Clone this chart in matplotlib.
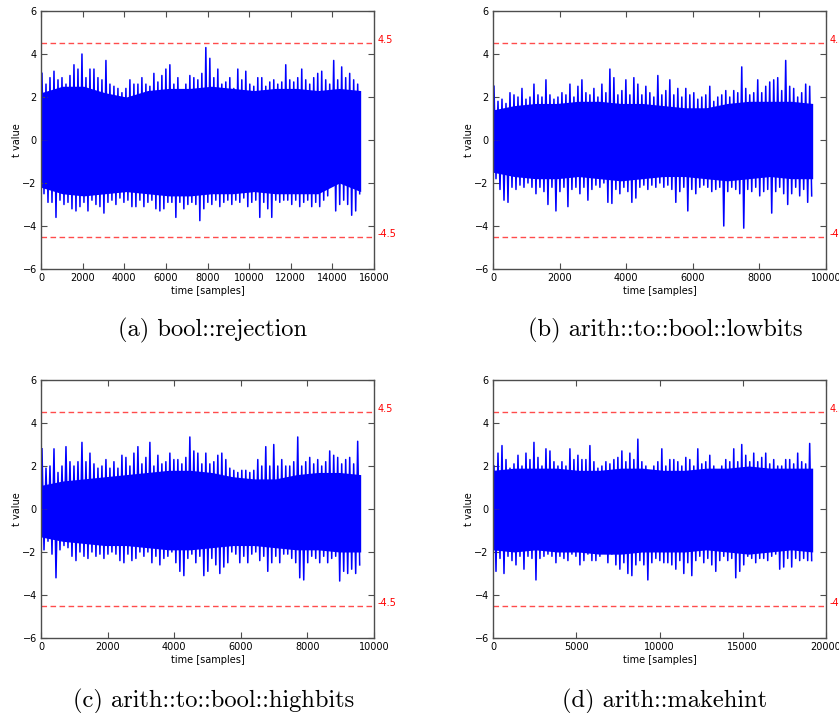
import numpy as np
import matplotlib
matplotlib.use("Agg")
import matplotlib.pyplot as plt
import matplotlib.transforms as mtransforms

n_a = 15360
hi_a = [3.1, 2.6, 2.9, 3.2, 2.8, 2.9, 2.6, 3.0, 3.5, 3.3,
        4.0, 2.9, 3.3, 3.3, 2.9, 2.8, 3.7, 2.6, 2.5, 2.4,
        2.2, 2.4, 2.8, 2.6, 2.6, 2.9, 2.6, 2.5, 3.1, 2.7,
        3.0, 3.3, 3.5, 2.6, 2.9, 2.3, 2.6, 3.0, 2.9, 2.8,
        3.1, 4.3, 3.8, 2.9, 3.3, 2.6, 2.7, 2.9, 2.4, 3.3,
        2.8, 3.2, 2.6, 2.5, 2.9, 2.9, 2.5, 2.7, 2.8, 2.6,
        2.7, 3.5, 2.8, 2.7, 2.9, 3.3, 2.8, 2.6, 2.9, 3.1,
        3.2, 2.8, 2.6, 3.7, 2.8, 3.4, 2.9, 3.1, 2.8, 2.6]
lo_a = [-2.5, -2.9, -2.9, -3.6, -2.8, -3.0, -2.9, -3.2, -3.3, -3.1,
        -2.9, -3.3, -2.8, -3.0, -3.1, -3.4, -2.9, -2.8, -3.0, -2.7,
        -2.9, -2.8, -3.1, -3.1, -2.8, -3.1, -2.9, -2.8, -3.2, -3.3,
        -3.2, -2.9, -2.9, -3.6, -2.9, -3.2, -3.0, -2.9, -3.0, -3.75,
        -3.2, -2.9, -3.0, -2.8, -3.1, -2.9, -2.8, -3.0, -2.8, -2.9,
        -2.7, -3.1, -2.9, -2.8, -3.6, -2.9, -3.2, -3.6, -2.8, -2.9,
        -2.8, -2.8, -3.0, -2.8, -3.1, -2.9, -2.8, -3.1, -2.9, -3.1,
        -2.8, -2.6, -1.9, -3.3, -3.0, -2.8, -3.0, -3.5, -3.3, -2.5]
core_hi_a = [2.2, 2.5, 2.5, 2.2, 2.0, 2.3, 2.4, 2.4, 2.5, 2.4, 2.3, 2.4, 2.4, 2.3, 2.4, 2.3]
core_lo_a = [-2.2, -2.5, -2.6, -2.5, -2.4, -2.5, -2.6, -2.6, -2.5, -2.5, -2.4, -2.5, -2.5, -2.5, -2.0, -2.4]

n_b = 9600
hi_b = [2.5, 1.8, 1.9, 1.7, 2.2, 2.1, 2.0, 2.4, 1.9, 2.0,
        2.6, 2.1, 2.0, 2.8, 2.1, 1.9, 2.0, 2.2, 2.1, 2.6,
        2.0, 2.5, 2.8, 2.2, 2.1, 2.4, 2.0, 2.6, 2.2, 3.3,
        2.9, 2.1, 2.3, 2.8, 2.1, 2.9, 2.6, 2.1, 2.5, 2.2,
        2.0, 3.0, 2.1, 2.3, 2.8, 2.1, 2.4, 2.0, 2.4, 2.1,
        2.2, 1.9, 2.0, 2.1, 2.5, 1.8, 2.0, 2.1, 2.3, 2.0,
        2.3, 2.2, 3.4, 2.4, 2.1, 2.2, 2.8, 2.2, 2.5, 2.7,
        2.8, 2.9, 2.3, 3.7, 2.5, 2.4, 2.0, 2.2, 2.6, 2.5]
lo_b = [-1.8, -2.3, -2.8, -2.9, -2.2, -2.3, -2.1, -2.2, -2.0, -2.2,
        -2.5, -2.2, -2.4, -3.0, -2.2, -3.3, -2.4, -2.2, -3.1, -2.3,
        -2.2, -2.5, -2.2, -2.8, -2.3, -2.1, -2.2, -2.0, -2.9, -2.95,
        -2.3, -2.5, -2.2, -2.4, -2.9, -2.7, -2.2, -2.1, -2.3, -2.1,
        -2.2, -2.0, -2.2, -2.1, -2.3, -2.9, -2.4, -2.2, -3.3, -2.3,
        -2.5, -2.2, -2.1, -2.2, -2.4, -2.3, -2.2, -4.0, -2.4, -2.2,
        -2.3, -2.5, -4.1, -2.3, -2.4, -2.2, -2.6, -2.4, -2.3, -3.4,
        -2.4, -2.2, -2.5, -3.0, -2.5, -2.2, -2.6, -2.3, -2.9, -2.6]
core_hi_b = [1.4, 1.6, 1.7, 1.7, 1.8, 1.8, 1.7, 1.7, 1.6, 1.5, 1.5, 1.7, 1.8, 1.8, 1.8, 1.7]
core_lo_b = [-1.5, -1.7, -1.8, -1.8, -1.7, -1.8, -1.9, -1.8, -1.7, -1.7, -1.8, -1.9, -1.8, -1.7, -1.8, -1.8]

n_c = 9600
hi_c = [2.8, 1.9, 2.0, 2.8, 1.7, 2.0, 2.9, 2.2, 2.0, 2.2,
        3.1, 2.2, 2.6, 2.1, 1.9, 2.0, 2.3, 1.9, 2.2, 1.9,
        2.5, 2.4, 2.0, 2.6, 2.9, 2.1, 2.4, 3.1, 2.0, 2.5,
        2.1, 2.2, 2.6, 2.3, 2.3, 2.1, 2.4, 3.35, 2.7, 2.6,
        2.1, 2.6, 2.1, 2.2, 2.5, 2.6, 2.3, 1.9, 1.8, 1.7,
        1.8, 1.8, 1.7, 1.8, 2.3, 2.0, 2.9, 2.0, 3.0, 2.0,
        2.3, 2.0, 2.0, 2.2, 3.35, 2.0, 2.2, 2.4, 2.1, 2.3,
        2.0, 2.2, 2.7, 2.5, 2.4, 2.1, 2.3, 2.4, 2.1, 3.15]
lo_c = [-1.9, -1.5, -2.1, -3.2, -1.9, -1.7, -1.8, -2.2, -2.4, -2.0,
        -2.2, -2.3, -2.0, -2.2, -2.1, -2.3, -2.1, -2.0, -2.1, -2.4,
        -2.5, -2.1, -2.4, -2.3, -2.0, -2.2, -2.0, -2.5, -2.2, -2.6,
        -2.3, -2.2, -2.0, -2.5, -2.9, -3.1, -2.3, -2.1, -2.5, -2.2,
        -3.1, -2.9, -2.3, -2.6, -3.0, -2.7, -2.5, -2.0, -2.1, -2.5,
        -2.2, -2.5, -2.1, -2.0, -2.4, -2.2, -2.9, -2.5, -2.2, -2.5,
        -2.1, -2.1, -2.3, -2.5, -3.2, -3.3, -2.5, -2.2, -2.3, -2.5,
        -2.2, -2.5, -2.3, -2.2, -3.35, -2.9, -3.0, -2.8, -3.0, -2.6]
core_hi_c = [1.1, 1.3, 1.4, 1.5, 1.6, 1.7, 1.8, 1.8, 1.7, 1.5, 1.4, 1.4, 1.6, 1.7, 1.7, 1.6]
core_lo_c = [-1.3, -1.5, -1.6, -1.7, -1.7, -1.8, -1.9, -1.9, -1.8, -1.7, -1.7, -1.8, -1.9, -1.9, -2.0, -2.0]

n_d = 19200
hi_d = [2.0, 2.6, 2.95, 2.3, 1.9, 2.1, 2.5, 2.0, 2.6, 2.3,
        3.1, 2.4, 2.0, 2.8, 2.7, 2.2, 2.0, 2.2, 2.0, 2.8,
        2.3, 2.5, 2.3, 2.3, 2.95, 2.2, 1.9, 2.0, 2.2, 2.1,
        2.3, 2.4, 2.7, 2.2, 2.6, 2.3, 3.25, 2.2, 2.0, 1.6,
        2.0, 2.2, 2.8, 2.0, 2.3, 2.3, 2.2, 2.0, 2.4, 2.3,
        2.0, 2.8, 2.1, 2.2, 2.5, 2.0, 1.6, 2.0, 2.3, 2.2,
        2.8, 2.2, 3.0, 2.5, 2.2, 2.6, 2.2, 2.4, 2.6, 2.1,
        2.3, 2.0, 2.0, 2.3, 2.3, 2.1, 2.6, 2.2, 2.1, 3.05]
lo_d = [-2.9, -2.3, -3.0, -2.2, -2.4, -2.6, -2.2, -2.8, -2.2, -2.3,
        -3.3, -2.3, -2.2, -2.1, -2.2, -2.5, -2.2, -2.3, -2.4, -2.1,
        -2.2, -2.6, -2.4, -2.1, -2.4, -2.4, -2.2, -2.0, -2.5, -2.1,
        -2.6, -2.8, -2.5, -3.0, -3.1, -2.6, -2.4, -2.6, -3.3, -2.5,
        -2.3, -2.4, -2.5, -2.5, -2.6, -2.8, -2.4, -3.0, -2.5, -3.1,
        -2.4, -2.2, -2.5, -2.3, -2.6, -2.9, -2.4, -2.2, -2.4, -2.3,
        -3.2, -2.9, -2.6, -2.2, -2.3, -2.5, -2.3, -2.3, -2.4, -2.2,
        -2.1, -2.8, -2.7, -2.3, -2.7, -2.3, -2.4, -2.3, -2.4, -2.4]
core_hi_d = [1.8, 1.9, 1.9, 1.9, 1.8, 1.8, 1.9, 1.9, 1.8, 1.8, 1.9, 1.9, 2.0, 1.9, 1.9, 1.9]
core_lo_d = [-1.9, -2.0, -1.9, -2.0, -2.0, -2.1, -2.1, -2.0, -2.0, -2.0, -1.9, -2.0, -2.1, -2.0, -1.9, -2.0]

captions = ["(a) bool::rejection", "(b) arith::to::bool::lowbits",
            "(c) arith::to::bool::highbits", "(d) arith::makehint"]
xmax = [16000, 10000, 10000, 20000]
xstep = [2000, 2000, 2000, 5000]
threshold = 4.5

panels = [(n_a, hi_a, lo_a, core_hi_a, core_lo_a),
          (n_b, hi_b, lo_b, core_hi_b, core_lo_b),
          (n_c, hi_c, lo_c, core_hi_c, core_lo_c),
          (n_d, hi_d, lo_d, core_hi_d, core_lo_d)]

W, H = 839, 713
fig = plt.figure(figsize=(W / 100, H / 100), dpi=100)

# axes boxes in pixels: left, top
boxes = [(41, 11), (493, 11), (41, 380), (493, 380)]
cap_pos = [(213, 330), (665, 330), (214, 701), (665, 701)]
aw, ah = 333, 258

for k, (n, hi, lo, chi, clo) in enumerate(panels):
    l, t = boxes[k]
    ax = fig.add_axes([l / W, 1 - (t + ah) / H, aw / W, ah / H])
    hi = np.array(hi)
    lo = np.array(lo)
    w = n / len(hi)
    idx = np.arange(len(hi))
    xs = np.empty(2 * len(hi))
    ys = np.empty(2 * len(hi))
    xs[0::2] = (idx + 0.25) * w
    xs[1::2] = (idx + 0.75) * w
    ys[0::2] = hi
    ys[1::2] = lo
    xc = np.linspace(0, n, len(chi))
    ax.fill_between(xc, clo, chi, color='b', lw=0)
    ax.plot(xs, ys, color='b', lw=1.1)

    ax.axhline(threshold, color='r', ls='--', lw=1, alpha=0.7, dashes=(4, 2.5))
    ax.axhline(-threshold, color='r', ls='--', lw=1, alpha=0.7, dashes=(4, 2.5))
    tr = mtransforms.blended_transform_factory(ax.transAxes, ax.transData)
    ax.text(1.01, threshold, '4.5', color='r', fontsize=7, transform=tr,
            va='baseline', ha='left', clip_on=False)
    ax.text(1.01, -threshold, '-4.5', color='r', fontsize=7, transform=tr,
            va='baseline', ha='left', clip_on=False)

    ax.set_xlim(0, xmax[k])
    ax.set_ylim(-6, 6)
    ax.set_xticks(np.arange(0, xmax[k] + 1, xstep[k]))
    ax.set_yticks(np.arange(-6, 7, 2))
    ax.tick_params(direction='in', top=True, right=True, labelsize=7,
                   length=4, width=0.8, color='0.3', pad=3)
    for s in ax.spines.values():
        s.set_color('0.3')
        s.set_linewidth(1)
    ax.set_xlabel('time [samples]', fontsize=7, labelpad=2)
    ax.set_ylabel('t value', fontsize=7, labelpad=0)

    cx, cy = cap_pos[k]
    fig.text(cx / W, 1 - cy / H, captions[k], fontfamily='cmr10', fontsize=17.6,
             ha='center', va='center')

fig.savefig('out.png', dpi=100)
